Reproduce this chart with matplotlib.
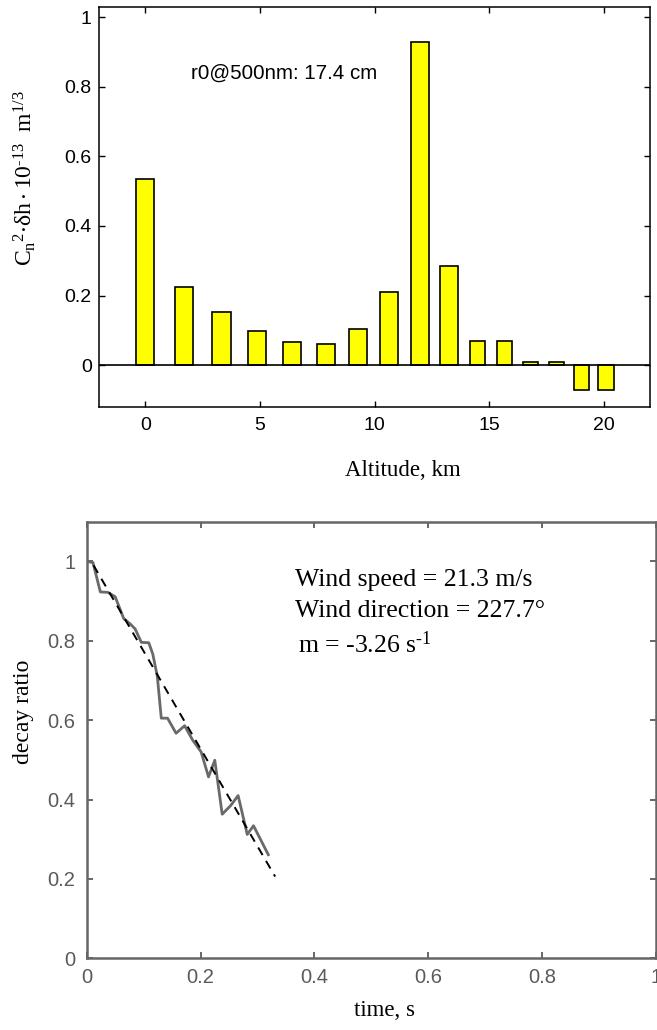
import numpy as np
import matplotlib
matplotlib.use("Agg")
import matplotlib.pyplot as plt

plt.rcParams['font.family'] = ['Liberation Sans', 'DejaVu Sans']
plt.rcParams['mathtext.fontset'] = 'custom'
plt.rcParams['mathtext.rm'] = 'Liberation Serif'
plt.rcParams['mathtext.it'] = 'Liberation Serif:italic'

# turbulence profile (bar chart)
altitude = [0.0, 1.69, 3.32, 4.87, 6.41, 7.87, 9.28, 10.63, 11.99, 13.24,
            14.47, 15.66, 16.79, 17.94, 19.01, 20.08]
cn2dh = [0.534, 0.224, 0.153, 0.098, 0.066, 0.061, 0.103, 0.210, 0.930, 0.284,
         0.070, 0.070, 0.010, 0.010, -0.070, -0.070]
bar_w = [0.8] * 10 + [0.66] * 6
r0_text = "r0@500nm: 17.4 cm"

# decay curve
t = [0.0, 0.011, 0.024, 0.037, 0.050, 0.065, 0.076, 0.085, 0.096, 0.109,
     0.116, 0.124, 0.131, 0.142, 0.157, 0.172, 0.186, 0.201, 0.214, 0.225,
     0.238, 0.253, 0.266, 0.282, 0.293, 0.319]
decay = [1.0, 0.997, 0.923, 0.922, 0.911, 0.856, 0.843, 0.830, 0.796, 0.795,
         0.767, 0.711, 0.605, 0.605, 0.567, 0.586, 0.550, 0.520, 0.457, 0.499,
         0.363, 0.385, 0.410, 0.312, 0.334, 0.261]
fit_t = [0.012, 0.331]
fit_y = [0.99, 0.206]
wind_lines = ["Wind speed = 21.3 m/s", "Wind direction = 227.7\u00b0"]
slope_text = "m = -3.26 s"

W, H = 657, 1030
fig = plt.figure(figsize=(W / 100, H / 100), dpi=100)

def box(x0, y0, x1, y1):
    return [x0 / W, 1 - y1 / H, (x1 - x0) / W, (y1 - y0) / H]

# ---- top panel
ax1 = fig.add_axes(box(99.3, 6.7, 650, 407))
ax1.bar(altitude, cn2dh, width=bar_w, color='#ffff00', edgecolor='black',
        linewidth=1.2, zorder=2)
ax1.axhline(0, color='black', linewidth=1.2, zorder=3)
ax1.set_xlim(-2, 22)
ax1.set_ylim(-0.12, 1.03)
ax1.set_xticks([0, 5, 10, 15, 20])
ax1.set_yticks([0, 0.2, 0.4, 0.6, 0.8, 1])
ax1.set_yticklabels(['0', '0.2', '0.4', '0.6', '0.8', '1'])
ax1.tick_params(direction='in', length=4.3, width=1, top=True, right=True,
                labelsize=14, colors='black')
ax1.tick_params(axis='y', pad=5.5)
ax1.tick_params(axis='x', pad=7.5)
for s in ax1.spines.values():
    s.set_linewidth(1.1)
ax1.text(2.0, 0.838, r0_text, fontsize=14.8, ha='left', va='center')

fig.text(25 / W, 1 - 178 / H,
         r"C$_{\mathregular{n}}$$^{\mathregular{2}}$$\mathregular{\cdot\delta h\cdot 10^{\text{-}13}\ \ m^{1/3}}$",
         rotation=90, ha='center', va='center', fontsize=17,
         family='Liberation Serif')
fig.text(403 / W, 1 - 470 / H, "Altitude, km", ha='center', va='center',
         fontsize=16.5, family='Liberation Serif')

# ---- bottom panel
gray = '#5a5a5a'
ax2 = fig.add_axes(box(86.7, 521.7, 656, 958.3))
ax2.plot(t, decay, color='#6a6a6a', linewidth=2.0, zorder=2)
ax2.plot(fit_t, fit_y, color='black', linewidth=1.4, linestyle=(0, (4.5, 3.5)),
         zorder=3)
ax2.set_xlim(0, 1)
ax2.set_ylim(0, 1.1)
ax2.set_xticks([0, 0.2, 0.4, 0.6, 0.8, 1])
ax2.set_xticklabels(['0', '0.2', '0.4', '0.6', '0.8', '1'])
ax2.set_yticks([0, 0.2, 0.4, 0.6, 0.8, 1])
ax2.set_yticklabels(['0', '0.2', '0.4', '0.6', '0.8', '1'])
ax2.tick_params(direction='in', length=4.3, width=1.3, top=True, right=True,
                labelsize=14.5, colors=gray)
ax2.tick_params(axis='y', pad=8)
ax2.tick_params(axis='x', pad=7)
for s in ax2.spines.values():
    s.set_linewidth(1.8)
    s.set_color('#666666')

ax2.text(0.366, 0.953, wind_lines[0], fontsize=18.5, family='Liberation Serif',
         ha='left', va='center')
ax2.text(0.366, 0.874, wind_lines[1], fontsize=18.5, family='Liberation Serif',
         ha='left', va='center')
ax2.text(0.372, 0.789, slope_text + r"$^{\text{-}\mathregular{1}}$",
         fontsize=18.5, family='Liberation Serif', ha='left', va='center')

fig.text(23 / W, 1 - 712 / H, "decay ratio", rotation=90, ha='center',
         va='center', fontsize=17, family='Liberation Serif')
fig.text(385 / W, 1 - 1010 / H, "time, s", ha='center', va='center',
         fontsize=16.5, family='Liberation Serif')

fig.savefig("out.png", dpi=100)
